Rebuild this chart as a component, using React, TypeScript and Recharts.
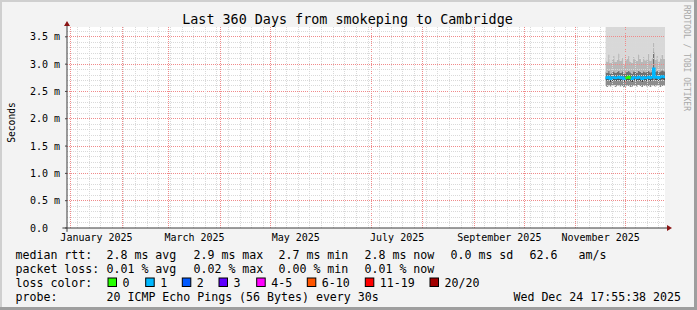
import { ComposedChart, Area, Line, XAxis, YAxis, CartesianGrid, ReferenceLine, ReferenceDot } from "recharts"

// days since Jan 1 2025
const days = [322, 323, 324, 325, 326, 327, 328, 329, 330, 331, 332, 333, 334, 335, 336, 337, 338, 339, 340, 341, 342, 343, 344, 345, 346, 347, 348, 349, 350, 351, 352, 353, 354, 355, 356, 357.75]
// median rtt in ms
const median = [2.76, 2.74, 2.77, 2.73, 2.75, 2.76, 2.74, 2.75, 2.77, 2.74, 2.76, 2.73, 2.74, 2.75, 2.77, 2.74, 2.73, 2.76, 2.75, 2.74, 2.77, 2.75, 2.73, 2.76, 2.74, 2.75, 2.77, 2.74, 2.76, 2.92, 2.75, 2.77, 2.74, 2.76, 2.78, 2.76]
// 0 = no loss (green), 1 = one ping lost (blue)
const lossClass = [1, 1, 1, 1, 1, 1, 1, 1, 1, 1, 1, 1, 1, 0, 0, 1, 1, 1, 1, 1, 1, 1, 1, 1, 1, 1, 1, 1, 1, 1, 1, 1, 1, 1, 1, 1]
const smokeLow = [2.60, 2.58, 2.61, 2.59, 2.60, 2.62, 2.58, 2.60, 2.61, 2.59, 2.60, 2.58, 2.59, 2.61, 2.60, 2.58, 2.59, 2.61, 2.60, 2.59, 2.62, 2.60, 2.58, 2.60, 2.61, 2.59, 2.60, 2.58, 2.61, 2.60, 2.59, 2.61, 2.60, 2.58, 2.60, 2.61]
const smokeQ1 = [2.70, 2.68, 2.71, 2.67, 2.69, 2.70, 2.68, 2.69, 2.71, 2.68, 2.70, 2.67, 2.68, 2.69, 2.71, 2.68, 2.67, 2.70, 2.69, 2.68, 2.71, 2.69, 2.67, 2.70, 2.68, 2.69, 2.71, 2.68, 2.70, 2.78, 2.69, 2.71, 2.68, 2.70, 2.72, 2.70]
const smokeQ3 = [2.86, 2.84, 2.88, 2.83, 2.85, 2.87, 2.84, 2.86, 2.88, 2.84, 2.87, 2.83, 2.85, 2.86, 2.88, 2.85, 2.83, 2.87, 2.86, 2.84, 2.88, 2.86, 2.84, 2.87, 2.85, 2.86, 2.88, 2.85, 2.87, 3.22, 2.86, 2.88, 2.85, 2.87, 2.89, 2.87]
const smokeP90 = [3.12, 3.05, 3.18, 3.02, 3.10, 3.15, 3.04, 3.08, 3.20, 3.06, 3.12, 3.00, 3.07, 3.10, 3.16, 3.05, 3.03, 3.14, 3.09, 3.06, 3.18, 3.10, 3.04, 3.13, 3.07, 3.11, 3.19, 3.06, 3.12, 3.40, 3.08, 3.15, 3.05, 3.11, 3.17, 3.10]
const smokeHigh = [4.4, 4.1, 4.6, 4.0, 4.3, 4.5, 4.2, 4.1, 4.7, 4.0, 4.4, 3.9, 4.2, 4.3, 4.6, 4.1, 4.0, 4.5, 4.2, 4.1, 4.6, 4.3, 4.0, 4.4, 4.2, 4.3, 4.8, 4.1, 4.4, 5.0, 4.2, 4.5, 4.1, 4.3, 4.6, 4.3]

const monthStarts = [0, 31, 59, 90, 120, 151, 181, 212, 243, 273, 304, 334]
const labelDays = [15.5, 74.5, 135.5, 196.5, 258, 319]
const monthLabels = ["January 2025", "March 2025", "May 2025", "July 2025", "September 2025", "November 2025"]
const yTicks = [0, 0.5, 1, 1.5, 2, 2.5, 3, 3.5]

const rttStats = ["median rtt:", "2.8 ms avg", "2.9 ms max", "2.7 ms min", "2.8 ms now", "0.0 ms sd", "62.6", "am/s"]
const lossStats = ["packet loss:", "0.01 % avg", "0.02 % max", "0.00 % min", "0.01 % now"]
const lossLabels = ["0", "1", "2", "3", "4-5", "6-10", "11-19", "20/20"]
const lossColors = ["#26ff00", "#00b8ff", "#0059ff", "#5e00ff", "#ff00fe", "#ff5500", "#ff0000", "#a10000"]

const X0 = -2.25
const X1 = 357.75
const YMAX = 3.68

const weekLines = Array.from({ length: 51 }, (_, i) => 4 + 7 * i)
const minorY = Array.from({ length: 36 }, (_, i) => i + 1).filter((n) => n % 5 !== 0).map((n) => n / 10)

const rows = days.map((d, i) => {
  const green = lossClass[i] === 0 || lossClass[i - 1] === 0 || lossClass[i + 1] === 0
  return {
    day: d,
    base: smokeLow[i],
    b1: smokeQ1[i] - smokeLow[i],
    b2: median[i] - smokeQ1[i],
    b3: smokeQ3[i] - median[i],
    b4: smokeP90[i] - smokeQ3[i],
    b5: smokeHigh[i] - smokeP90[i],
    medBlue: lossClass[i] === 1 ? median[i] : null,
    medGreen: green ? median[i] : null,
  }
})

const MONO = "DejaVu Sans Mono"
const MAJOR = "#f08a8a"
const MINOR = "#d9d9d9"
const legendCols = [16, 107, 194, 279, 365, 451, 530, 579]
const boxX = [108, 145.7, 182.3, 219, 256.7, 307.3, 365.3, 430]

const yFmt = (v: number) => (v === 0 ? "0.0\u00a0\u00a0" : v.toFixed(1) + " m")
const xFmt = (v: number) => monthLabels[labelDays.indexOf(v)] || ""

export default function App() {
  return (
    <div style={{ position: "absolute", left: 0, top: 0, width: 697, height: 310, background: "#f3f3f3", overflow: "hidden" }}>
      <div style={{ position: "absolute", left: 0, top: 0, width: 697, height: 2, background: "#cfcfcf" }} />
      <div style={{ position: "absolute", left: 0, top: 0, width: 2, height: 310, background: "#cfcfcf" }} />
      <div style={{ position: "absolute", right: 0, top: 0, width: 3, height: 310, background: "#9e9e9e" }} />
      <div style={{ position: "absolute", left: 0, bottom: 0, width: 697, height: 3, background: "#9e9e9e" }} />
      {/* white canvas behind the plot area */}
      <div style={{ position: "absolute", left: 67, top: 27, width: 598, height: 201, background: "#ffffff" }} />
      <div style={{ position: "absolute", left: 0, top: 0 }}>
        <ComposedChart width={697} height={310} data={rows} margin={{ top: 27, right: 32, bottom: 0, left: 0 }}>
          <XAxis
            type="number"
            dataKey="day"
            domain={[X0, X1]}
            allowDataOverflow
            ticks={labelDays}
            tickFormatter={xFmt}
            interval={0}
            height={82}
            axisLine={false}
            tickLine={false}
            tickSize={0}
            tickMargin={5.5}
            tick={{ fontFamily: MONO, fontSize: 10, fill: "#000" }}
          />
          <YAxis
            type="number"
            domain={[0, YMAX]}
            allowDataOverflow
            ticks={yTicks}
            tickFormatter={yFmt}
            interval={0}
            width={67}
            axisLine={false}
            tickSize={2}
            tickMargin={5}
            tickLine={{ stroke: "#444" }}
            tick={{ fontFamily: MONO, fontSize: 10, fill: "#000" }}
          />
          <Area dataKey="base" stackId="s" type="step" fill="none" stroke="none" isAnimationActive={false} activeDot={false} />
          <Area dataKey="b1" stackId="s" type="step" fill="#8c8c8c" fillOpacity={1} stroke="none" isAnimationActive={false} activeDot={false} />
          <Area dataKey="b2" stackId="s" type="step" fill="#4a4a4a" fillOpacity={1} stroke="none" isAnimationActive={false} activeDot={false} />
          <Area dataKey="b3" stackId="s" type="step" fill="#707070" fillOpacity={1} stroke="none" isAnimationActive={false} activeDot={false} />
          <Area dataKey="b4" stackId="s" type="step" fill="#b8b8b8" fillOpacity={1} stroke="none" isAnimationActive={false} activeDot={false} />
          <Area dataKey="b5" stackId="s" type="step" fill="#d8d8d8" fillOpacity={1} stroke="none" isAnimationActive={false} activeDot={false} />
          {weekLines.map((d) => (
            <ReferenceLine
              key={"wx" + d}
              segment={[{ x: d, y: 0 }, { x: d, y: YMAX }]}
              stroke={MINOR}
              strokeDasharray="1 1"
              shapeRendering="crispEdges"
              ifOverflow="visible"
            />
          ))}
          {minorY.map((v) => (
            <ReferenceLine
              key={"wy" + v}
              segment={[{ x: X0, y: v }, { x: X1, y: v }]}
              stroke={MINOR}
              strokeDasharray="1 1"
              shapeRendering="crispEdges"
              ifOverflow="visible"
            />
          ))}
          <CartesianGrid
            zIndex={150}
            horizontalValues={yTicks.filter((v) => v > 0)}
            verticalValues={monthStarts}
            stroke={MAJOR}
            strokeDasharray="1 1"
            shapeRendering="crispEdges"
            syncWithTicks={false}
          />
          <Line dataKey="medBlue" type="step" stroke="#00b8ff" strokeWidth={2} dot={false} activeDot={false} isAnimationActive={false} />
          <Line dataKey="medGreen" type="step" stroke="#26ff00" strokeWidth={2} dot={false} activeDot={false} isAnimationActive={false} />
          <ReferenceLine segment={[{ x: -5, y: 0 }, { x: 360.5, y: 0 }]} stroke="#3a3a3a" ifOverflow="visible" />
          <ReferenceLine segment={[{ x: X0, y: -0.07 }, { x: X0, y: 3.7 }]} stroke="#3a3a3a" ifOverflow="visible" />
          <ReferenceDot
            x={X1}
            y={0}
            ifOverflow="visible"
            shape={(p: any) => (
              <polygon points={`${p.cx + 2},${p.cy - 3} ${p.cx + 2},${p.cy + 3} ${p.cx + 7},${p.cy}`} fill="#8a1414" />
            )}
          />
          <ReferenceDot
            x={X0}
            y={YMAX}
            ifOverflow="visible"
            shape={(p: any) => (
              <polygon points={`${p.cx - 3},${p.cy - 1} ${p.cx + 3},${p.cy - 1} ${p.cx},${p.cy - 6}`} fill="#8a1414" />
            )}
          />
        </ComposedChart>
      </div>
      <svg width={697} height={310} style={{ position: "absolute", left: 0, top: 0, pointerEvents: "none" }}>
        <text x={347.5} y={24} textAnchor="middle" fontFamily={MONO} fontSize={13.4} fill="#000">
          Last 360 Days from smokeping to Cambridge
        </text>
        <text transform="translate(14.5,122.5) rotate(-90)" textAnchor="middle" fontFamily={MONO} fontSize={9.6} fill="#000">
          Seconds
        </text>
        <text transform="translate(684,5) rotate(90)" fontFamily={MONO} fontSize={8} fill="#a8a8a8">
          RRDTOOL / TOBI OETIKER
        </text>
        <g fontFamily={MONO} fontSize={11.6} fill="#000" style={{ whiteSpace: "pre" }}>
          {rttStats.map((s, i) => (
            <text key={"r" + i} x={legendCols[i] - 0.5} y={258.5}>{s}</text>
          ))}
          {lossStats.map((s, i) => (
            <text key={"l" + i} x={legendCols[i] - 0.5} y={272.5}>{s}</text>
          ))}
          <text x={15.5} y={286.5}>loss color:</text>
          {lossLabels.map((s, i) => (
            <g key={"c" + i}>
              <rect x={boxX[i]} y={278} width={8.5} height={8.5} fill={lossColors[i]} stroke="#000" strokeWidth={1} />
              <text x={boxX[i] + 14.5} y={286.5}>{s}</text>
            </g>
          ))}
          <text x={15.5} y={300.5}>probe:</text>
          <text x={106.5} y={300.5}>20 ICMP Echo Pings (56 Bytes) every 30s</text>
          <text x={681} y={300.5} textAnchor="end">Wed Dec 24 17:55:38 2025</text>
        </g>
      </svg>
    </div>
  )
}
